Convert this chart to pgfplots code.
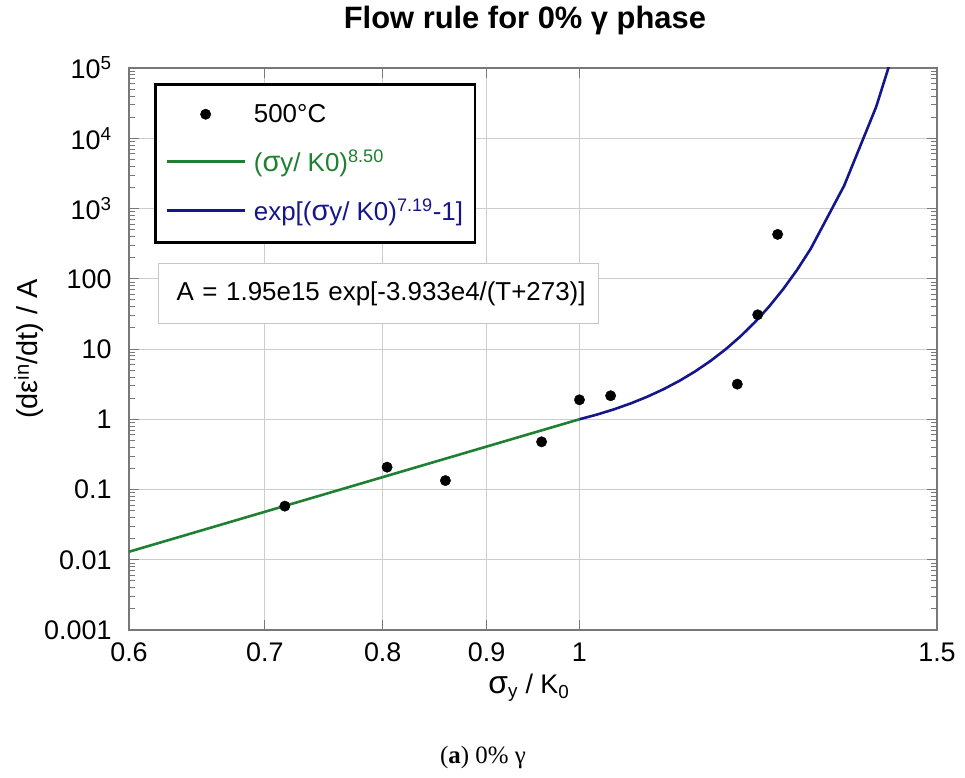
\documentclass[border=0pt]{standalone}
\usepackage{pgfplots}
\pgfplotsset{compat=1.18}
\usepackage{fontspec}
\setmainfont{Liberation Sans}
\newfontfamily\capfont{Liberation Serif}

\definecolor{fitgreen}{RGB}{30,128,48}
\definecolor{fitblue}{RGB}{22,22,140}
\definecolor{gridgray}{RGB}{205,205,205}
\definecolor{framegray}{RGB}{120,120,120}

% measured yield-stress ratio vs. normalised inelastic strain rate, 500 C
\pgfplotstableread{
x      y
0.716  0.058
0.804  0.208
0.859  0.134
0.958  0.477
1.000  1.89
1.036  2.16
1.196  3.16
1.224  30.7
1.252  428
}\testdata

% power-law branch (sigma_y/K0)^8.50
\pgfplotstableread{
x     y
0.60  0.013003
1.00  1.0
}\powerlaw

% exponential branch exp[(sigma_y/K0)^7.19 - 1]
\pgfplotstableread{
x     y
1.00  1.0
1.02  1.1653
1.04  1.3851
1.06  1.6827
1.08  2.0941
1.10  2.6763
1.12  3.5208
1.14  4.7848
1.16  6.7334
1.18  9.848
1.20  15.02
1.22  23.99
1.24  40.27
1.26  71.39
1.28  134.2
1.30  269.0
1.35  2105
1.40  27930
1.45  703000
}\expbranch

\newcommand{\sig}{{\fontsize{32}{32}\selectfont σ}}
\newcommand{\lsig}{{\fontsize{29}{29}\selectfont σ}}

\begin{document}
\begin{tikzpicture}
\path[use as bounding box] (0bp,0bp) rectangle (965bp,778bp);
\begin{axis}[
  at={(129bp,148bp)}, anchor=south west,
  width=808bp, height=562bp, scale only axis,
  xmode=log, ymode=log,
  xmin=0.6, xmax=1.5, ymin=1e-3, ymax=1e5,
  xtick={0.6,0.7,0.8,0.9,1,1.5},
  xticklabels={0.6,0.7,0.8,0.9,1,1.5},
  minor xtick={},
  ytick={1e-3,1e-2,1e-1,1,10,100,1e3,1e4,1e5},
  yticklabels={0.001,0.01,0.1,1,10,100,10\textsuperscript{3},10\textsuperscript{4},10\textsuperscript{5}},
  minor ytick={0.002,0.003,0.004,0.005,0.006,0.007,0.008,0.009,
               0.02,0.03,0.04,0.05,0.06,0.07,0.08,0.09,
               0.2,0.3,0.4,0.5,0.6,0.7,0.8,0.9,
               2,3,4,5,6,7,8,9,
               20,30,40,50,60,70,80,90,
               200,300,400,500,600,700,800,900,
               2000,3000,4000,5000,6000,7000,8000,9000,
               20000,30000,40000,50000,60000,70000,80000,90000},
  grid=major,
  major grid style={gridgray, line width=0.9bp},
  axis line style={framegray, line width=1.2bp},
  tick style={framegray, line width=0.8bp},
  major tick length=10bp, minor tick length=6bp,
  tick align=inside,
  ticklabel style={font=\fontsize{27}{30}\selectfont, text=black},
  xticklabel style={yshift=-9bp},
  yticklabel style={xshift=-14bp},
  title={Flow rule for 0\% γ phase},
  title style={font=\fontsize{31}{34}\bfseries\selectfont, at={(axis description cs:0.49,1)}, anchor=center, yshift=42bp},
  xlabel={\sig\textsubscript{y} / K\textsubscript{0}},
  xlabel style={font=\fontsize{27}{30}\selectfont, at={(axis description cs:0.495,0)}, anchor=center, yshift=-58bp},
  ylabel={(dε\textsuperscript{in}/dt) / A},
  ylabel style={font=\fontsize{29}{32}\selectfont, at={(axis description cs:0,0.5)}, anchor=center, yshift=100bp},
  legend cell align=left,
  legend image code/.code={\draw[mark repeat=2,mark phase=2,#1] plot coordinates {(0bp,0bp) (39bp,0bp) (78bp,0bp)};},
  legend style={at={(rel axis cs:0.031,0.973)}, anchor=north west,
    draw=black, line width=2.6bp, fill=white,
    font=\fontsize{26}{30}\selectfont,
    inner xsep=10bp, inner ysep=18bp, row sep=22bp, column sep=6bp},
]
\addplot[only marks, mark=*, mark size=5.2bp, black, line width=0.4bp] table {\testdata};
\addlegendentry{500°C}
\addplot[fitgreen, line width=2.6bp] table {\powerlaw};
\addlegendentry{\textcolor{fitgreen}{(\lsig y/ K0)\textsuperscript{8.50}}}
\addplot[fitblue, line width=2.6bp] table {\expbranch};
\addlegendentry{\textcolor{fitblue}{exp[(\lsig y/ K0)\textsuperscript{7.19}-1]}}

\node[draw=gray!45, line width=1bp, fill=white, anchor=north west,
      minimum width=440bp, minimum height=60bp, inner xsep=18bp,
      text width=404bp, align=left, font=\fontsize{26}{30}\selectfont]
  at (rel axis cs:0.036,0.653) {\mbox{A = 1.95e15 exp[-3.933e4/(T+273)]}};
\end{axis}
\node[font=\capfont\fontsize{25}{28}\selectfont] at (483bp,20bp) {(\textbf{a}) 0\% γ};
\end{tikzpicture}
\end{document}
